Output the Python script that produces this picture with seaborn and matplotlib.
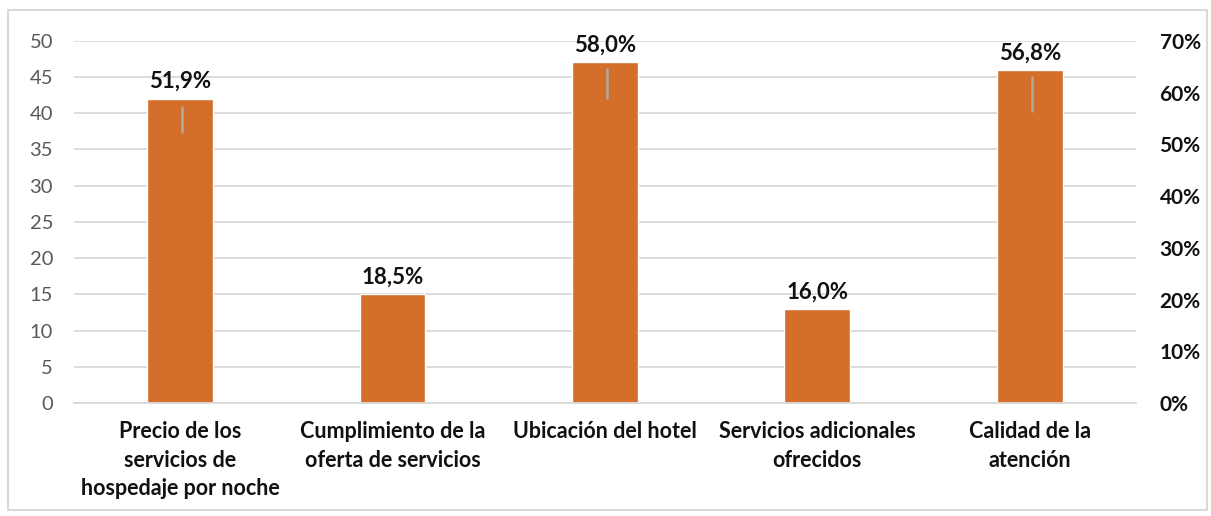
import numpy as np
import pandas as pd
import seaborn as sns
import matplotlib.pyplot as plt
from matplotlib.patches import Rectangle

# data
categorias = ['Precio de los\nservicios de\nhospedaje por noche',
              'Cumplimiento de la\noferta de servicios',
              'Ubicación del hotel',
              'Servicios adicionales\nofrecidos',
              'Calidad de la\natención']
frecuencia = [42, 15, 47, 13, 46]
porcentaje = ['51,9%', '18,5%', '58,0%', '16,0%', '56,8%']
# short grey strokes seen inside some bars (left axis units)
linea_alto = [41.0, np.nan, 46.3, np.nan, 45.2]
linea_bajo = [37.2, np.nan, 41.9, np.nan, 40.2]

sns.set_style('white')
plt.rcParams['font.family'] = ['Lato', 'DejaVu Sans']

df = pd.DataFrame({'cat': categorias, 'n': frecuencia})

fig = plt.figure(figsize=(12.11, 5.16), dpi=100)
fig.patches.append(Rectangle((0.007, 0.012), 0.99, 0.968, transform=fig.transFigure,
                             fill=False, edgecolor='#D9D9D9', linewidth=1.5))
ax = fig.add_axes([0.061, 0.219, 0.877, 0.702])

sns.barplot(data=df, x='cat', y='n', color='#D36E2B', saturation=1, width=0.31, ax=ax, zorder=2)

x = np.arange(len(categorias))
ax.vlines(x + 0.01, linea_bajo, linea_alto, color='#B4A99C', linewidth=1.8, zorder=3)

for xi, n, p in zip(x, frecuencia, porcentaje):
    ax.text(xi, n + 0.9, p, ha='center', va='bottom', fontsize=16, fontweight='bold', color='#111111')

ax.set_ylim(0, 50)
ax.set_xlim(-0.5, 4.5)
ax.set_yticks(range(0, 51, 5))
ax.yaxis.grid(True, color='#D9D9D9', linewidth=1.3, zorder=0)
ax.set_axisbelow(True)
ax.set_xlabel('')
ax.set_ylabel('')
ax.tick_params(axis='y', labelsize=14.5, labelcolor='#595959', length=0, pad=15)
ax.tick_params(axis='x', labelsize=15.5, length=0, pad=13)
for lab in ax.get_xticklabels():
    lab.set_fontweight('bold')
    lab.set_color('#111111')
    lab.set_linespacing(1.45)
for s in ['top', 'right', 'left']:
    ax.spines[s].set_visible(False)
ax.spines['bottom'].set_color('#D9D9D9')
ax.spines['bottom'].set_linewidth(1.3)

ax2 = ax.twinx()
ax2.set_ylim(0, 0.70)
ax2.set_yticks(np.arange(0, 0.71, 0.1))
ax2.set_yticklabels([f'{int(round(v*100))}%' for v in np.arange(0, 0.71, 0.1)])
ax2.tick_params(axis='y', labelsize=15, length=0, pad=17)
for lab in ax2.get_yticklabels():
    lab.set_fontweight('bold')
    lab.set_color('#111111')
for s in ax2.spines.values():
    s.set_visible(False)

fig.savefig('out.png', dpi=100)
